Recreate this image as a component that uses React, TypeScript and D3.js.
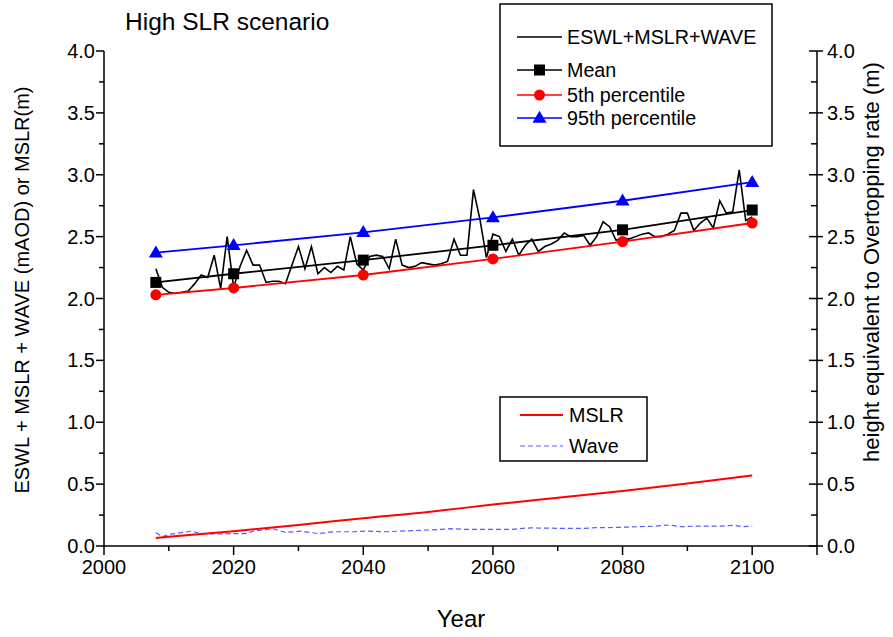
import React from 'react';
import * as d3 from 'd3';

// ---------- DATA ----------
const eswlYears: number[] = d3.range(2008, 2101);
const eswlValues: number[] = [
  2.24, 2.09, 2.05, 2.04, 2.05, 2.06, 2.12, 2.19, 2.17, 2.35, // 2008-2017
  2.08, 2.50, 2.09, 2.26, 2.39, 2.27, 2.27, 2.13, 2.14, 2.14, // 2018-2027
  2.12, 2.27, 2.42, 2.24, 2.42, 2.20, 2.25, 2.21, 2.26, 2.23, // 2028-2037
  2.50, 2.28, 2.23, 2.34, 2.35, 2.34, 2.24, 2.48, 2.27, 2.25, // 2038-2047
  2.26, 2.29, 2.28, 2.27, 2.28, 2.30, 2.48, 2.35, 2.35, 2.88, // 2048-2057
  2.64, 2.33, 2.52, 2.50, 2.38, 2.48, 2.35, 2.43, 2.48, 2.38, // 2058-2067
  2.42, 2.44, 2.47, 2.53, 2.50, 2.50, 2.51, 2.43, 2.50, 2.62, // 2068-2077
  2.58, 2.47, 2.49, 2.48, 2.50, 2.52, 2.53, 2.50, 2.50, 2.52, // 2078-2087
  2.55, 2.69, 2.69, 2.55, 2.61, 2.65, 2.57, 2.79, 2.69, 2.70, // 2088-2097
  3.04, 2.63, 2.66, // 2098-2100
];

const statYears: number[] = [2008, 2020, 2040, 2060, 2080, 2100];
const meanValues: number[] = [2.13, 2.2, 2.31, 2.43, 2.555, 2.715];
const p5Values: number[] = [2.03, 2.085, 2.19, 2.32, 2.46, 2.61];
const p95Values: number[] = [2.37, 2.43, 2.535, 2.655, 2.79, 2.94];

const mslrYears: number[] = [2008, 2010, 2020, 2030, 2040, 2050, 2060, 2070, 2080, 2090, 2100];
const mslrValues: number[] = [0.065, 0.075, 0.12, 0.17, 0.225, 0.275, 0.335, 0.39, 0.445, 0.505, 0.57];

const waveYears: number[] = [
  2008, 2009, 2010, 2012, 2013.5, 2015, 2017, 2020, 2022, 2023, 2026, 2028, 2030.5, 2033,
  2035.5, 2038.5, 2040.5, 2043.5, 2045.5, 2048, 2050.5, 2053.5, 2055.5, 2058, 2060, 2063,
  2064.6, 2066, 2070, 2074, 2076, 2079, 2082.6, 2085, 2087.2, 2089, 2091, 2095, 2097, 2098.6, 2100,
];
const waveValues: number[] = [
  0.11, 0.075, 0.094, 0.108, 0.12, 0.10, 0.097, 0.10, 0.10, 0.12, 0.14, 0.11, 0.12, 0.10,
  0.115, 0.115, 0.12, 0.115, 0.12, 0.125, 0.13, 0.14, 0.135, 0.135, 0.135, 0.135,
  0.143, 0.146, 0.143, 0.143, 0.148, 0.15, 0.156, 0.16, 0.17, 0.156, 0.16, 0.16, 0.167, 0.156, 0.16,
];

const xMajorTicks: number[] = [2000, 2020, 2040, 2060, 2080, 2100];
const xMinorTicks: number[] = [2010, 2030, 2050, 2070, 2090];
const yMajorTicks: number[] = [0, 0.5, 1, 1.5, 2, 2.5, 3, 3.5, 4];
const yMinorTicks: number[] = [0.25, 0.75, 1.25, 1.75, 2.25, 2.75, 3.25, 3.75];

const titleText = 'High SLR scenario';
const xLabel = 'Year';
const yLabelLeft = 'ESWL + MSLR + WAVE (mAOD) or MSLR(m)';
const yLabelRight = 'height equivalent to Overtopping rate (m)';
const legendTop = ['ESWL+MSLR+WAVE', 'Mean', '5th percentile', '95th percentile'];
const legendBottom = ['MSLR', 'Wave'];

// ---------- LAYOUT ----------
const W = 893;
const H = 637;
const X0 = 104;
const X1 = 817;
const Y0 = 546;
const Y1 = 51;
const FONT = '"Liberation Sans", Arial, Helvetica, sans-serif';
const RED = '#ff0000';
const BLUE = '#0000ff';
const WAVE_BLUE = '#5a5aff';

export default function App() {
  const x = d3.scaleLinear().domain([2000, 2110]).range([X0, X1]);
  const y = d3.scaleLinear().domain([0, 4]).range([Y0, Y1]);

  const zip = (a: number[], b: number[]) => a.map((v, i) => [v, b[i]] as [number, number]);
  const line = d3
    .line<[number, number]>()
    .x((d) => x(d[0]))
    .y((d) => y(d[1]));
  const smooth = d3
    .line<[number, number]>()
    .x((d) => x(d[0]))
    .y((d) => y(d[1]))
    .curve(d3.curveMonotoneX);

  const eswlPath = line(zip(eswlYears, eswlValues)) || '';
  const meanPath = line(zip(statYears, meanValues)) || '';
  const p5Path = line(zip(statYears, p5Values)) || '';
  const p95Path = line(zip(statYears, p95Values)) || '';
  const mslrPath = smooth(zip(mslrYears, mslrValues)) || '';
  const wavePath = line(zip(waveYears, waveValues)) || '';

  const sq = 11;
  const triangle = (cx: number, cy: number) => {
    const s = 14;
    const h = 12;
    return `M${cx},${cy - h * 0.6}L${cx + s / 2},${cy + h * 0.4}L${cx - s / 2},${cy + h * 0.4}Z`;
  };

  const tickFont = 20;
  const legFont = 19.7;

  return (
    <svg
      width={W}
      height={H}
      style={{ position: 'absolute', left: 0, top: 0, background: '#fff' }}
      fontFamily={FONT}
    >
      <rect x={0} y={0} width={W} height={H} fill="#fff" />

      {/* title */}
      <text x={125} y={30} fontSize={24.5} fill="#000">
        {titleText}
      </text>

      {/* series */}
      <path d={wavePath} fill="none" stroke={WAVE_BLUE} strokeWidth={1.2} strokeDasharray="5,3" />
      <path d={mslrPath} fill="none" stroke={RED} strokeWidth={2} />
      <path d={eswlPath} fill="none" stroke="#000" strokeWidth={1.6} />
      <path d={p95Path} fill="none" stroke={BLUE} strokeWidth={1.8} />
      <path d={meanPath} fill="none" stroke="#000" strokeWidth={1.8} />
      <path d={p5Path} fill="none" stroke={RED} strokeWidth={1.8} />

      {statYears.map((yr, i) => (
        <path key={'t' + yr} d={triangle(x(yr), y(p95Values[i]))} fill={BLUE} />
      ))}
      {statYears.map((yr, i) => (
        <rect
          key={'s' + yr}
          x={x(yr) - sq / 2}
          y={y(meanValues[i]) - sq / 2}
          width={sq}
          height={sq}
          fill="#000"
        />
      ))}
      {statYears.map((yr, i) => (
        <circle key={'c' + yr} cx={x(yr)} cy={y(p5Values[i])} r={5.5} fill={RED} />
      ))}

      {/* axes */}
      <line x1={X0} y1={Y0} x2={X1} y2={Y0} stroke="#000" strokeWidth={1.5} />
      <line x1={X0} y1={Y0 + 0.75} x2={X0} y2={Y1} stroke="#000" strokeWidth={1.5} />
      <line x1={X1} y1={Y0 + 0.75} x2={X1} y2={Y1} stroke="#000" strokeWidth={1.5} />

      {/* x ticks */}
      {xMajorTicks.map((t) => (
        <g key={'xm' + t}>
          <line x1={x(t)} x2={x(t)} y1={Y0} y2={Y0 + 9} stroke="#000" strokeWidth={1.5} />
          <text x={x(t)} y={Y0 + 28} fontSize={tickFont} textAnchor="middle" fill="#000">
            {t}
          </text>
        </g>
      ))}
      {xMinorTicks.map((t) => (
        <line key={'xn' + t} x1={x(t)} x2={x(t)} y1={Y0} y2={Y0 + 5} stroke="#000" strokeWidth={1.5} />
      ))}
      <line x1={X1} x2={X1} y1={Y0} y2={Y0 + 9} stroke="#000" strokeWidth={1.5} />

      {/* left y ticks */}
      {yMajorTicks.map((t) => (
        <g key={'yl' + t}>
          <line x1={X0 - 8} x2={X0} y1={y(t)} y2={y(t)} stroke="#000" strokeWidth={1.5} />
          <text
            x={X0 - 9}
            y={y(t)}
            fontSize={tickFont}
            textAnchor="end"
            dominantBaseline="central"
            fill="#000"
          >
            {t.toFixed(1)}
          </text>
        </g>
      ))}
      {yMinorTicks.map((t) => (
        <line key={'yln' + t} x1={X0 - 5} x2={X0} y1={y(t)} y2={y(t)} stroke="#000" strokeWidth={1.5} />
      ))}

      {/* right y ticks */}
      {yMajorTicks.map((t) => (
        <g key={'yr' + t}>
          <line x1={X1 - 8} x2={X1 + 6} y1={y(t)} y2={y(t)} stroke="#000" strokeWidth={1.5} />
          <text
            x={X1 + 10}
            y={y(t)}
            fontSize={tickFont}
            textAnchor="start"
            dominantBaseline="central"
            fill="#000"
          >
            {t.toFixed(1)}
          </text>
        </g>
      ))}
      {yMinorTicks.map((t) => (
        <line key={'yrn' + t} x1={X1 - 6} x2={X1} y1={y(t)} y2={y(t)} stroke="#000" strokeWidth={1.5} />
      ))}

      {/* axis labels */}
      <text x={461} y={627} fontSize={24} textAnchor="middle" fill="#000">
        {xLabel}
      </text>
      <text
        transform={`translate(22,${290}) rotate(-90)`}
        fontSize={20}
        textAnchor="middle"
        dominantBaseline="central"
        fill="#000"
      >
        {yLabelLeft}
      </text>
      <text
        transform={`translate(871,${262}) rotate(-90)`}
        fontSize={22}
        textAnchor="middle"
        dominantBaseline="central"
        fill="#000"
      >
        {yLabelRight}
      </text>

      {/* legend top */}
      <rect x={500} y={4} width={272} height={142} fill="#fff" stroke="#000" strokeWidth={1.5} />
      {legendTop.map((lab, i) => {
        const ly = [37, 70, 95, 118][i];
        const col = ['#000', '#000', RED, BLUE][i];
        return (
          <g key={lab}>
            <line x1={517} x2={562} y1={ly} y2={ly} stroke={col} strokeWidth={1.6} />
            {i === 1 && <rect x={539.5 - sq / 2} y={ly - sq / 2} width={sq} height={sq} fill="#000" />}
            {i === 2 && <circle cx={539.5} cy={ly} r={5.5} fill={RED} />}
            {i === 3 && <path d={triangle(539.5, ly)} fill={BLUE} />}
            <text x={567} y={ly} fontSize={legFont} dominantBaseline="central" fill="#000">
              {lab}
            </text>
          </g>
        );
      })}

      {/* legend bottom */}
      <rect x={500} y={397} width={147} height={64} fill="#fff" stroke="#000" strokeWidth={1.5} />
      <line x1={520} x2={563} y1={415} y2={415} stroke={RED} strokeWidth={2} />
      <text x={569} y={415} fontSize={legFont} dominantBaseline="central" fill="#000">
        {legendBottom[0]}
      </text>
      <line x1={520} x2={563} y1={446} y2={446} stroke={WAVE_BLUE} strokeWidth={1.2} strokeDasharray="5,3" />
      <text x={569} y={446} fontSize={legFont} dominantBaseline="central" fill="#000">
        {legendBottom[1]}
      </text>
    </svg>
  );
}
